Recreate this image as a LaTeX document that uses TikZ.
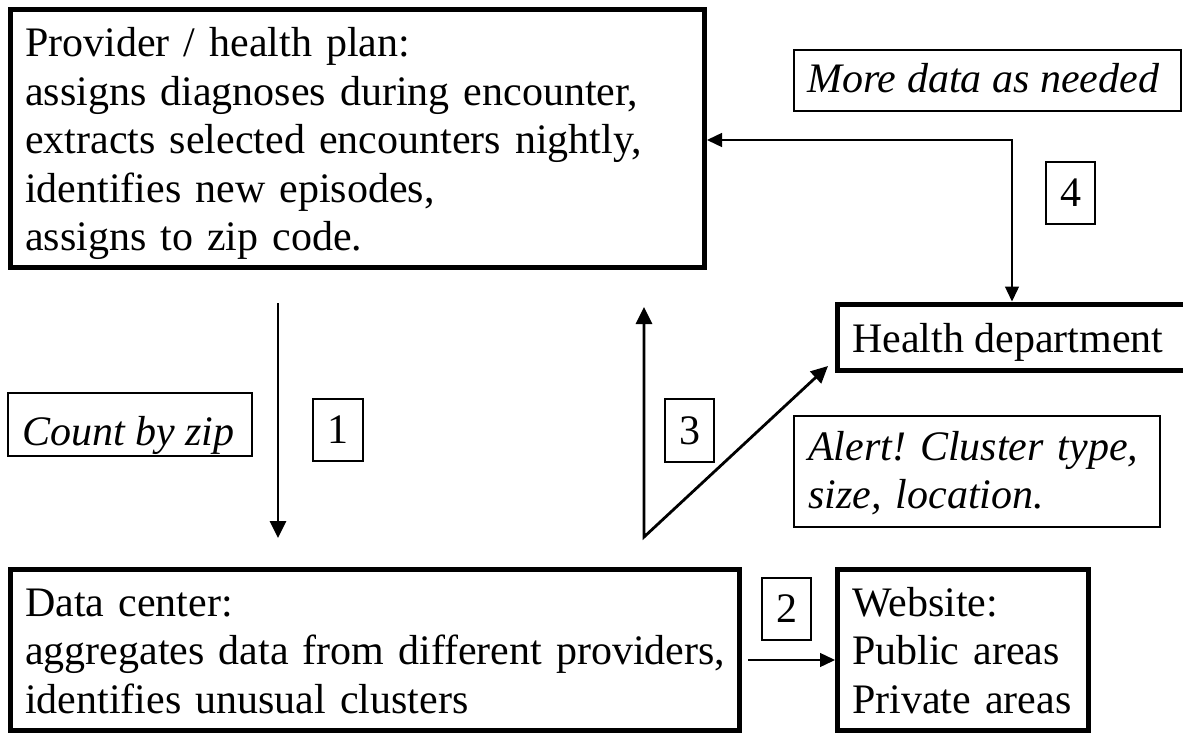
\documentclass[tikz,border=0pt]{standalone}
\usepackage{fontspec}
\setmainfont{Liberation Serif}
\usetikzlibrary{arrows.meta}
\frenchspacing
\begin{document}
\begin{tikzpicture}[x=1pt,y=-1pt,
  frame/.style={draw, rectangle, line width=5pt, inner sep=0pt},
  tag/.style={draw, rectangle, line width=1.3pt, inner sep=0pt},
  big/.style={font=\fontsize{42}{48.5}\selectfont},
  txt/.style={big, anchor=base west, inner sep=0pt, align=left},
  bold tip/.style={Triangle[length=17pt,width=16pt]},
  thin tip/.style={Triangle[length=15pt,width=14pt]},
  bold arrow/.style={line width=2.8pt, -{Triangle[length=17pt,width=16pt]}},
  thin arrow/.style={line width=1.4pt, -{Triangle[length=15pt,width=14pt]}},
]
% page area
\fill[white] (0,0) rectangle (1183,733);
\path[use as bounding box] (0,0) rectangle (1183,733);

% main boxes
\node[frame, minimum width=694pt, minimum height=258pt] (provider) at (357.5,138.5) {};
\node[frame, minimum width=729.5pt, minimum height=161pt] (datacenter) at (374.75,650) {};
\node[frame, minimum width=250.5pt, minimum height=161pt] (website) at (962.75,650) {};
\begin{scope}
  \clip (0,0) rectangle (1183,733);
  \node[frame, minimum width=357pt, minimum height=66pt] (health) at (1016,337) {};
\end{scope}

% box texts
\node[txt, text width=680pt] (provider-text) at (25,57)
  {Provider / health plan:\\assigns diagnoses during encounter,\\extracts selected encounters nightly,\\identifies new episodes,\\assigns to zip code.};
\node[txt, text width=715pt] (datacenter-text) at (25,616)
  {Data center:\\aggregates data from different providers,\\identifies unusual clusters};
\node[txt, text width=235pt] (website-text) at (852,616)
  {Website:\\Public areas\\Private areas};
\node[txt] (health-text) at (852,352) {Health department};

% annotation boxes
\node[tag, minimum width=387pt, minimum height=61pt] (more) at (987.5,80.5) {};
\node[txt, font=\fontsize{42}{48.5}\selectfont\itshape] (more-text) at (807,93) {More data as needed};
\node[tag, minimum width=244pt, minimum height=63pt] (count) at (130,424.5) {};
\node[txt, font=\fontsize{42}{48.5}\selectfont\itshape] (count-text) at (22,445) {Count by zip};
\node[tag, minimum width=366pt, minimum height=111pt] (alert) at (977,471.5) {};
\node[txt, text width=350pt, font=\fontsize{42}{48.5}\selectfont\itshape] (alert-text) at (808,460)
  {Alert! Cluster type,\\size, location.};

% step numbers
\node[tag, big, minimum width=50pt, minimum height=62pt] (n1) at (338,430) {1};
\node[tag, big, minimum width=49pt, minimum height=62pt] (n2) at (786.5,609) {2};
\node[tag, big, minimum width=49pt, minimum height=63pt] (n3) at (689.5,430.5) {3};
\node[tag, big, minimum width=49pt, minimum height=62pt] (n4) at (1070.5,193) {4};

% connector end points
\coordinate (a1-start) at (278,303);
\coordinate (a1-end) at (278,538);
\coordinate (a3-top) at (644,307);
\coordinate (a3-corner) at (644,537);
\coordinate (a3-tip) at (828,366);
\coordinate (a4-corner) at (1012,140);
\coordinate (a2-start) at (748,660);

% step 1: count by zip
\draw[bold arrow] (a1-start) -- (a1-end);
% step 3: alert back to provider and to health department
\draw[line width=2.8pt, {Triangle[length=17pt,width=16pt]}-{Triangle[length=17pt,width=16pt]}]
  (a3-top) -- (a3-corner) -- (a3-tip);
% step 4: more data requested
\draw[line width=1.4pt, {Triangle[length=15pt,width=14pt]}-{Triangle[length=15pt,width=14pt]}]
  (provider.east |- a4-corner) -- (a4-corner) -- (health.north -| a4-corner);
% step 2: to website
\draw[thin arrow] (a2-start) -- (website.west |- a2-start);
\end{tikzpicture}
\end{document}
